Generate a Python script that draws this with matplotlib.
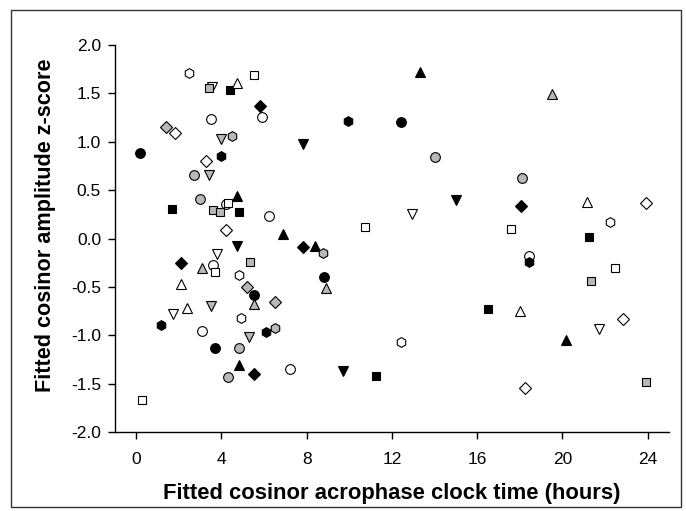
import matplotlib
matplotlib.use('Agg')
import matplotlib.pyplot as plt
from matplotlib.patches import Rectangle

plt.rcParams['font.family'] = ['Liberation Sans', 'DejaVu Sans']

# acrophase (hours), amplitude z-score per marker style
black_circle_x = [0.19, 3.68, 5.51, 8.81, 12.42]
black_circle_y = [0.885, -1.13, -0.58, -0.396, 1.20]
gray_circle_x = [2.71, 3.01, 4.31, 4.81, 14.0, 18.13]
gray_circle_y = [0.655, 0.41, -1.43, -1.13, 0.844, 0.627]
white_circle_x = [3.50, 5.91, 4.20, 6.23, 3.61, 3.10, 7.21, 18.43]
white_circle_y = [1.24, 1.26, 0.355, 0.23, -0.27, -0.95, -1.35, -0.176]

black_square_x = [4.39, 1.69, 4.80, 16.53, 11.23, 21.25]
black_square_y = [1.53, 0.307, 0.276, -0.726, -1.42, 0.014]
gray_square_x = [3.42, 3.61, 3.92, 5.32, 21.33, 23.95]
gray_square_y = [1.56, 0.30, 0.27, -0.24, -0.437, -1.477]
white_square_x = [5.51, 4.31, 3.68, 0.28, 10.73, 17.61, 22.45]
white_square_y = [1.69, 0.37, -0.34, -1.67, 0.12, 0.10, -0.30]

black_up_x = [4.71, 6.90, 8.39, 4.81, 13.33, 20.16]
black_up_y = [0.44, 0.049, -0.075, -1.30, 1.72, -1.046]
gray_up_x = [3.09, 5.51, 8.91, 19.53]
gray_up_y = [-0.30, -0.67, -0.506, 1.495]
white_up_x = [4.71, 2.10, 2.38, 21.14, 18.02]
white_up_y = [1.61, -0.47, -0.72, 0.38, -0.747]

black_down_x = [4.71, 7.81, 15.03, 9.72]
black_down_y = [-0.075, 0.978, 0.40, -1.37]
gray_down_x = [4.0, 3.40, 3.51, 5.30]
gray_down_y = [1.03, 0.655, -0.70, -1.02]
white_down_x = [3.55, 3.79, 1.71, 12.94, 21.74]
white_down_y = [1.57, -0.16, -0.78, 0.25, -0.936]

black_diamond_x = [5.82, 2.10, 5.51, 7.81, 18.04]
black_diamond_y = [1.37, -0.255, -1.40, -0.089, 0.335]
gray_diamond_x = [1.39, 5.21, 6.51]
gray_diamond_y = [1.15, -0.50, -0.65]
white_diamond_x = [1.82, 3.29, 4.20, 23.95, 22.84, 18.24]
white_diamond_y = [1.09, 0.80, 0.09, 0.37, -0.826, -1.54]

black_hex_x = [4.0, 1.18, 6.10, 9.93, 18.43]
black_hex_y = [0.857, -0.89, -0.96, 1.216, -0.244]
gray_hex_x = [4.50, 8.78, 6.51]
gray_hex_y = [1.06, -0.15, -0.92]
white_hex_x = [2.48, 4.81, 4.91, 12.42, 22.24]
white_hex_y = [1.71, -0.375, -0.82, -1.067, 0.176]

GRAY = '#b8b8b8'

fig = plt.figure(figsize=(6.86, 5.11), dpi=100)
ax = fig.add_axes([0.1676, 0.154, 0.8074, 0.758])

series = [
    (white_down_x, white_down_y, 'v', 'white', 7),
    (black_circle_x, black_circle_y, 'o', 'black', 7),
    (gray_circle_x, gray_circle_y, 'o', GRAY, 7),
    (white_circle_x, white_circle_y, 'o', 'white', 7),
    (black_square_x, black_square_y, 's', 'black', 6.3),
    (gray_square_x, gray_square_y, 's', GRAY, 6.3),
    (white_square_x, white_square_y, 's', 'white', 6.3),
    (black_up_x, black_up_y, '^', 'black', 7),
    (gray_up_x, gray_up_y, '^', GRAY, 7),
    (white_up_x, white_up_y, '^', 'white', 7),
    (black_down_x, black_down_y, 'v', 'black', 7),
    (gray_down_x, gray_down_y, 'v', GRAY, 7),
    (black_diamond_x, black_diamond_y, 'D', 'black', 6),
    (gray_diamond_x, gray_diamond_y, 'D', GRAY, 6),
    (white_diamond_x, white_diamond_y, 'D', 'white', 6),
    (black_hex_x, black_hex_y, 'h', 'black', 7),
    (gray_hex_x, gray_hex_y, 'h', GRAY, 7),
    (white_hex_x, white_hex_y, 'h', 'white', 7),
]
for xs, ys, m, fc, ms in series:
    ax.plot(xs, ys, linestyle='none', marker=m, markersize=ms,
            markerfacecolor=fc, markeredgecolor='black', markeredgewidth=0.8)

ax.set_xlim(-1, 25)
ax.set_ylim(-2.0, 2.0)
ax.set_xticks([0, 4, 8, 12, 16, 20, 24])
ax.set_yticks([-2.0, -1.5, -1.0, -0.5, 0.0, 0.5, 1.0, 1.5, 2.0])
ax.set_yticklabels(['%.1f' % v for v in ax.get_yticks()])
ax.spines['top'].set_visible(False)
ax.spines['right'].set_visible(False)
for s in ['left', 'bottom']:
    ax.spines[s].set_linewidth(1.0)
ax.tick_params(direction='out', length=5, width=1.0, labelsize=12.5)
ax.tick_params(axis='x', pad=9)
ax.tick_params(axis='y', pad=5)

ax.set_xlabel('Fitted cosinor acrophase clock time (hours)', fontsize=15.8,
              fontweight='bold')
ax.set_ylabel('Fitted cosinor amplitude z-score', fontsize=15.6,
              fontweight='bold')
ax.xaxis.set_label_coords(0.5, -0.131)
ax.yaxis.set_label_coords(-0.107, 0.534)

fig.patches.append(Rectangle((11 / 686, 1 - 507 / 511), 670 / 686, 497 / 511,
                             transform=fig.transFigure, fill=False,
                             edgecolor='#333333', linewidth=1.0))

fig.savefig('out.png', dpi=100)
